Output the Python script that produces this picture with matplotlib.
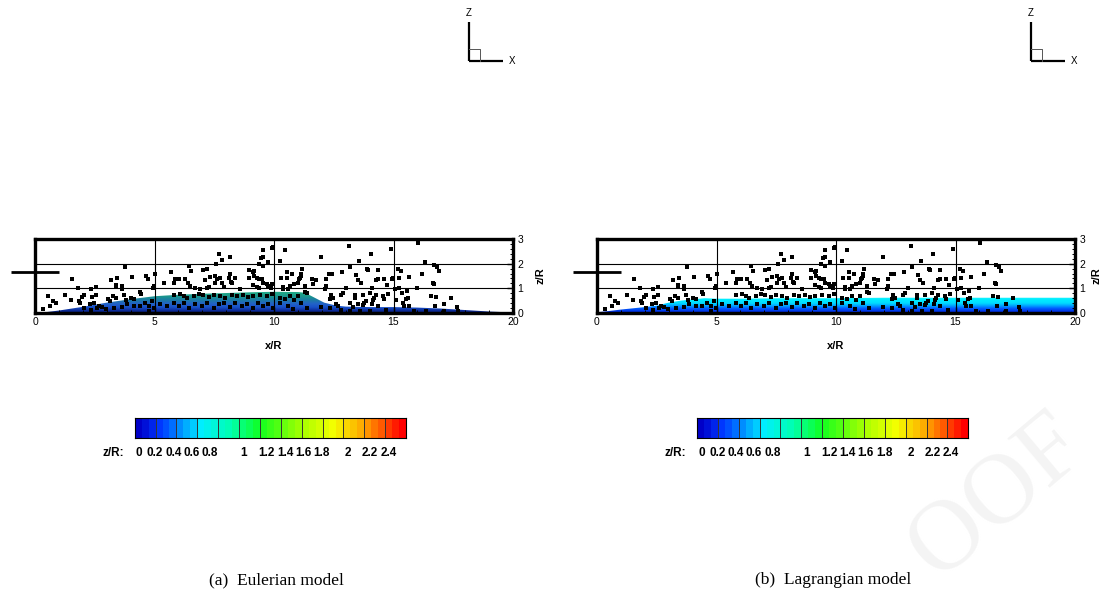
import numpy as np
import matplotlib
matplotlib.use("Agg")
import matplotlib.pyplot as plt
from matplotlib.colors import LinearSegmentedColormap, ListedColormap

# ---------------- data ----------------
particle_x = [3.76,1.53,3.19,3.44,4.04,4.66,4.73,1.78,2.54,2.33,3.37,3.40,3.62,3.65,4.93,4.97,0.53,1.25,2.03,1.96,
              2.40,2.57,0.76,0.87,0.64,0.35,1.50,1.85,1.87,2.30,2.47,2.68,2.82,3.05,3.14,3.28,3.37,3.72,3.79,4.00,
              4.14,4.39,4.44,4.62,4.76,4.97,4.90,2.05,2.33,2.61,2.96,3.30,3.65,3.86,4.14,4.41,4.76,
              5.80,6.08,6.22,6.36,6.64,6.85,7.05,7.26,7.47,7.75,7.96,8.23,8.44,8.72,8.93,9.14,9.41,9.69,9.90,
              5.25,5.53,5.80,6.01,6.22,6.43,6.71,6.98,7.19,7.47,7.68,7.89,8.16,8.37,8.65,8.86,9.14,9.35,9.55,9.76,9.97,
              9.14,9.28,9.39,9.30,9.39,9.48,9.55,9.69,9.90,7.26,8.26,
              7.68,7.82,8.14,7.57,6.43,7.19,7.03,5.69,6.54,5.04,5.87,6.01,5.39,5.83,6.29,6.40,7.10,7.33,7.54,7.54,
              7.61,7.75,7.82,8.16,8.12,8.21,8.35,6.50,6.71,6.91,7.19,7.89,8.58,8.97,9.11,9.16,9.18,8.96,9.39,9.53,
              9.44,9.55,9.55,9.93,9.97,9.76,9.73,9.86,
              13.14,10.46,11.98,14.04,14.90,10.25,13.55,13.16,11.19,13.90,13.93,14.34,10.55,10.76,12.30,12.44,12.86,
              11.11,11.15,11.08,11.05,10.53,10.28,11.57,11.77,12.19,13.44,13.51,13.65,14.25,14.37,14.60,14.94,10.83,
              11.01,11.29,11.64,12.12,13.00,14.11,14.72,
              10.66,10.60,10.36,10.39,12.19,11.36,11.29,12.40,12.47,12.33,12.89,12.82,13.37,13.41,13.16,13.30,13.72,
              13.86,13.75,14.00,14.14,14.18,14.28,14.55,14.62,14.76,12.58,12.68,13.51,13.72,14.11,14.35,10.25,10.46,
              10.66,10.83,11.01,11.15,10.25,10.60,10.80,11.36,11.98,12.33,12.82,13.16,13.58,14.00,14.69,
              16.01,16.33,16.71,16.84,16.91,15.18,15.32,15.64,15.25,16.19,16.64,16.71,15.97,15.08,15.25,15.11,16.57,
              16.78,17.40,17.12,16.75,17.64,15.36,15.55,15.60,15.53,15.39,15.46,15.64,15.87,16.36,17.12,17.68,14.97]
particle_z = [1.86,1.38,1.33,1.42,1.44,1.52,1.38,1.02,1.06,0.96,1.12,1.06,1.09,0.99,1.02,1.09,0.69,0.73,0.72,0.65,
              0.66,0.72,0.49,0.42,0.29,0.18,0.53,0.49,0.42,0.36,0.42,0.29,0.26,0.56,0.49,0.69,0.62,0.72,0.53,0.62,
              0.58,0.85,0.76,0.42,0.29,0.22,0.49,0.22,0.13,0.22,0.18,0.22,0.26,0.36,0.29,0.29,0.09,
              0.72,0.76,0.69,0.62,0.69,0.76,0.72,0.66,0.72,0.69,0.62,0.72,0.69,0.72,0.66,0.69,0.72,0.69,0.76,
              0.36,0.29,0.42,0.29,0.42,0.22,0.36,0.29,0.42,0.22,0.36,0.42,0.26,0.42,0.29,0.36,0.22,0.42,0.29,0.36,0.22,
              1.12,1.06,1.02,1.42,1.36,1.38,1.22,1.16,1.16,1.05,1.20,
              2.40,2.16,2.29,1.99,1.92,1.78,1.76,1.66,1.69,1.60,1.38,1.38,1.22,1.20,1.36,1.22,1.33,1.46,1.52,1.22,
              1.38,1.42,1.22,1.60,1.40,1.25,1.42,1.09,1.02,0.98,1.00,1.06,0.96,1.73,1.65,1.72,1.52,1.42,1.99,1.92,
              2.22,2.26,2.56,2.62,2.69,2.05,1.09,1.02,
              2.73,2.56,2.26,2.40,2.58,2.09,2.09,1.86,1.80,1.78,1.73,1.76,1.65,1.60,1.60,1.60,1.66,
              1.60,1.52,1.42,1.36,1.42,1.42,1.36,1.33,1.36,1.56,1.33,1.22,1.33,1.36,1.36,1.38,1.16,
              1.22,1.09,1.18,0.96,1.02,1.02,1.12,
              1.09,0.98,1.05,0.96,1.09,0.80,0.85,0.72,0.62,0.56,0.80,0.72,0.72,0.62,0.42,0.26,0.72,
              0.49,0.42,0.82,0.53,0.62,0.72,0.69,0.58,0.76,0.36,0.29,0.36,0.33,0.36,0.29,0.62,0.56,
              0.69,0.53,0.69,0.42,0.42,0.29,0.18,0.22,0.26,0.22,0.13,0.09,0.09,0.09,0.13,
              2.85,2.06,1.93,1.85,1.69,1.80,1.69,1.46,1.42,1.58,1.22,1.18,1.02,0.96,1.00,0.52,0.69,
              0.66,0.62,0.38,0.29,0.25,0.82,0.89,0.62,0.56,0.42,0.29,0.29,0.09,0.09,0.09,0.09,1.40]

euler_x = [0, 0.5, 1, 2, 3, 4, 5, 6, 7, 8, 9, 10, 11, 11.3, 11.7, 12.1, 12.6, 13, 14, 15, 16, 17, 18, 19, 20]
euler_h = [0, 0.04, 0.10, 0.25, 0.42, 0.56, 0.68, 0.74, 0.78, 0.81, 0.84, 0.86, 0.85, 0.82, 0.62, 0.42, 0.30,
           0.26, 0.24, 0.24, 0.22, 0.18, 0.12, 0.06, 0.02]

lagr_x = [0, 0.5, 1, 1.5, 2, 2.5, 3, 3.5, 4, 4.5, 5, 6, 8, 10, 12, 14, 16, 18, 20]
lagr_h = [0.03, 0.08, 0.14, 0.19, 0.24, 0.30, 0.42, 0.50, 0.55, 0.60, 0.58, 0.58, 0.60, 0.60, 0.62, 0.62,
          0.62, 0.62, 0.62]

rotor_x = [-1.0, 1.0]
rotor_z = [1.65, 1.65]

x_ticks = [0, 5, 10, 15, 20]
z_ticks = [0, 1, 2, 3]
cbar_min, cbar_max = 0.0, 2.6
cbar_step = 0.2
cbar_labels = ["0", "0.2", "0.4", "0.6", "0.8", "1", "1.2", "1.4", "1.6", "1.8", "2", "2.2", "2.4"]
cbar_label_pos = [0.044, 0.195, 0.370, 0.546, 0.722, 1.047, 1.265, 1.440, 1.616, 1.792, 2.047, 2.255, 2.430]
captions = ["(a)  Eulerian model", "(b)  Lagrangian model"]

# ---------------- styles ----------------
W, H = 1103, 596
fig = plt.figure(figsize=(W / 100, H / 100), dpi=100)
SANS = ["Liberation Sans", "DejaVu Sans"]
SERIF = ["Liberation Serif", "DejaVu Serif"]

legend_cmap = LinearSegmentedColormap.from_list(
    "legend",
    [(0.0, "#0000c8"), (0.08, "#0038ff"), (0.16, "#0090ff"), (0.235, "#00eeff"),
     (0.35, "#00ffb0"), (0.46, "#10ff20"), (0.62, "#a8ff00"), (0.74, "#f4ff00"),
     (0.86, "#ffa000"), (1.0, "#ff0000")])
n_levels = 39
legend_colors = ListedColormap(legend_cmap(np.linspace(0, 1, n_levels)))

euler_cmap = LinearSegmentedColormap.from_list(
    "euler",
    [(0.0, "#081c6a"), (0.1, "#0c2a96"), (0.25, "#1850c8"), (0.4, "#2262c8"),
     (0.55, "#1c78a8"), (0.7, "#1a9290"), (0.85, "#1ea486"), (1.0, "#24b08a")])

lagr_cmap = LinearSegmentedColormap.from_list(
    "lagr",
    [(0.0, "#0010a0"), (0.08, "#0030e0"), (0.25, "#0058ff"), (0.4, "#00a0ff"),
     (0.55, "#00dcff"), (0.8, "#00f0ff"), (1.0, "#90ffff")])


def px_rect(l, t, r, b):
    return [l / W, 1 - b / H, (r - l) / W, (b - t) / H]


def clipped_fill(ax, xs, hs, cmap, zmax):
    poly = ax.fill_between(xs, 0, hs, facecolor="none", edgecolor="none")
    path = poly.get_paths()[0]
    grad = np.linspace(0, 1, 300).reshape(-1, 1)
    img = ax.imshow(grad, extent=[0, 20, 0, zmax], origin="lower", aspect="auto",
                    cmap=cmap, interpolation="bilinear", zorder=1)
    img.set_clip_path(path, ax.transData)


def panel(left, xs, hs, cmap, zmax):
    ax = fig.add_axes(px_rect(left, 239, left + 478, 313))
    clipped_fill(ax, xs, hs, cmap, zmax)
    ax.set_xlim(0, 20)
    ax.set_ylim(0, 3)
    ax.set_xticks(x_ticks)
    ax.set_yticks(z_ticks)
    ax.set_xticks(np.arange(0, 21, 1), minor=True)
    ax.set_yticks(np.arange(0, 3.01, 0.2), minor=True)
    ax.yaxis.tick_right()
    ax.grid(True, which="major", color="black", lw=0.8, zorder=0.5)
    ax.set_axisbelow(False)
    ax.tick_params(which="major", direction="in", length=4, width=1, labelsize=7.5, pad=3,
                   right=True, left=False, bottom=True, top=False)
    ax.tick_params(which="minor", direction="in", length=2.2, width=0.7,
                   right=True, left=False, bottom=True, top=False)
    for lab in ax.get_xticklabels() + ax.get_yticklabels():
        lab.set_family(SANS)
    for s in ax.spines.values():
        s.set_linewidth(2.4)
        s.set_zorder(5)
    ax.scatter(particle_x, particle_z, s=5.5, marker="s", c="black", linewidths=0, zorder=4)
    ax.plot(rotor_x, rotor_z, color="black", lw=2.0, clip_on=False, zorder=6, solid_capstyle="butt")
    return ax


ax1 = panel(35, euler_x, euler_h, euler_cmap, 0.9)
ax2 = panel(597, lagr_x, lagr_h, lagr_cmap, 0.7)


def colorbar(left):
    cax = fig.add_axes(px_rect(left, 418, left + 271.3, 438.3))
    bounds = np.linspace(cbar_min, cbar_max, n_levels + 1)
    vals = 0.5 * (bounds[:-1] + bounds[1:])
    cax.pcolormesh(bounds, [0, 1], vals.reshape(1, -1), cmap=legend_colors,
                   vmin=cbar_min, vmax=cbar_max, shading="flat")
    for b in np.arange(cbar_min, cbar_max + 1e-6, cbar_step):
        cax.axvline(b, color="#333333", lw=0.7)
    cax.set_xlim(cbar_min, cbar_max)
    cax.set_ylim(0, 1)
    cax.set_xticks([])
    cax.set_yticks([])
    for s in cax.spines.values():
        s.set_linewidth(0.8)
    for lab, pos in zip(cbar_labels, cbar_label_pos):
        cax.text(pos, -0.72, lab, ha="center", va="center", fontsize=8.5, fontweight="bold",
                 family=SANS)
    cax.text(-0.1, -0.72, "z/R:", ha="right", va="center", fontsize=8.5, fontweight="bold",
             family=SANS)
    return cax


colorbar(134.7)
colorbar(697.0)

# overlays in pixel coordinates
ov = fig.add_axes([0, 0, 1, 1], zorder=-1)
ov.set_xlim(0, W)
ov.set_ylim(H, 0)
ov.axis("off")
ov2 = fig.add_axes([0, 0, 1, 1], zorder=10)
ov2.set_xlim(0, W)
ov2.set_ylim(H, 0)
ov2.axis("off")

ov.text(998, 497, "OOF", rotation=40, rotation_mode="anchor", ha="center", va="center",
        fontsize=72, color="#f4f4f4", family=SERIF)

for dx in [0, 562]:
    ov2.plot([469 + dx, 469 + dx], [22, 61], color="black", lw=1.6, solid_capstyle="butt")
    ov2.plot([469 + dx, 503 + dx], [61, 61], color="black", lw=1.6, solid_capstyle="butt")
    ov2.plot([469 + dx, 480 + dx, 480 + dx], [49, 49, 61], color="#555555", lw=0.7)
    ov2.text(469 + dx, 13, "Z", ha="center", va="center", fontsize=7, family=SANS)
    ov2.text(512 + dx, 61, "X", ha="center", va="center", fontsize=7, family=SANS)
    ov2.text(274 + dx, 346, "x/R", ha="center", va="center", fontsize=8, fontweight="bold",
             family=SANS)
ov2.text(541, 276, "z/R", ha="center", va="center", rotation=90, fontsize=8,
         fontweight="bold", family=SANS)
ov2.text(1096, 276, "z/R", ha="center", va="center", rotation=90, fontsize=8,
         fontweight="bold", family=SANS)

ov2.text(276, 580, captions[0], ha="center", va="center", fontsize=12.5, family=SERIF)
ov2.text(833, 580, captions[1], ha="center", va="center", fontsize=12.5, family=SERIF)

fig.savefig("out.png", dpi=100)
